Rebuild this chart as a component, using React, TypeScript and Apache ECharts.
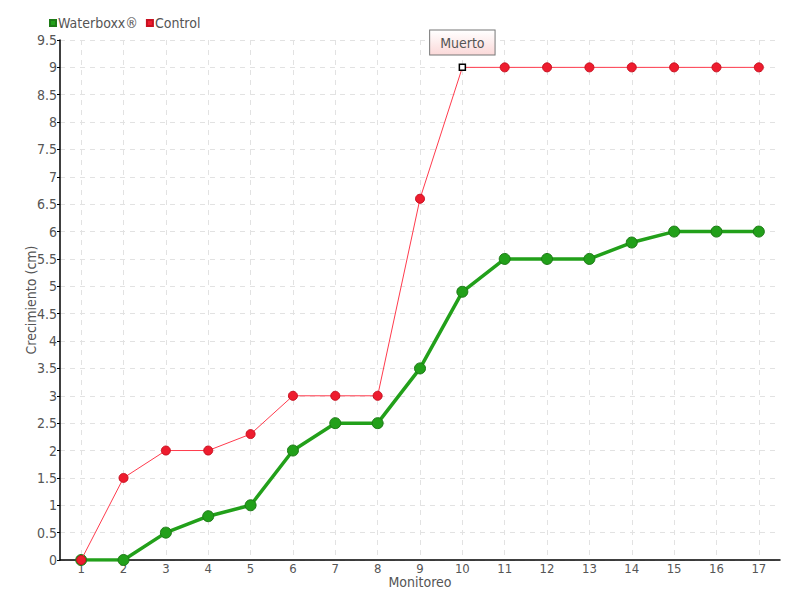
import React, { useEffect, useRef } from "react";
import * as echarts from "echarts";

const categories = ["1","2","3","4","5","6","7","8","9","10","11","12","13","14","15","16","17"];
const waterboxx = [0, 0, 0.5, 0.8, 1, 2, 2.5, 2.5, 3.5, 4.9, 5.5, 5.5, 5.5, 5.8, 6, 6, 6];
const control = [0, 1.5, 2, 2, 2.3, 3, 3, 3, 6.6, 9, 9, 9, 9, 9, 9, 9, 9];
const deadIndex = 9;
const deadLabel = "Muerto";

const FONT = "'DejaVu Sans Condensed', 'Roboto Condensed', 'Liberation Sans Narrow', sans-serif";

export default function App() {
  const ref = useRef<HTMLDivElement>(null);
  useEffect(() => {
    if (!ref.current) return;
    const chart = echarts.init(ref.current, undefined, { renderer: "svg" });
    const controlData = control.map((v, i) =>
      i === deadIndex
        ? {
            value: v,
            symbol: "rect",
            symbolSize: 6,
            itemStyle: { color: "#ffffff", borderColor: "#000000", borderWidth: 1.5 },
            label: {
              show: true,
              position: "top",
              distance: 9,
              formatter: deadLabel,
              fontFamily: FONT,
              fontSize: 14,
              color: "#555",
              padding: [5, 10, 5, 10],
              borderColor: "#777",
              borderWidth: 1,
              backgroundColor: {
                type: "linear", x: 0, y: 0, x2: 0, y2: 1,
                colorStops: [
                  { offset: 0, color: "#ffffff" },
                  { offset: 1, color: "#fbd9d9" },
                ],
              },
            },
          }
        : v
    );
    chart.setOption({
      animation: false,
      textStyle: { fontFamily: FONT },
      legend: {
        left: 44,
        top: 11,
        itemWidth: 6,
        itemHeight: 6,
        itemGap: 8,
        icon: "rect",
        textStyle: { fontFamily: FONT, fontSize: 14, color: "#555", padding: [0, 0, 0, -3] },
        data: ["Waterboxx®", "Control"],
      },
      grid: { left: 60, right: 20, top: 40, bottom: 40, containLabel: false },
      xAxis: {
        type: "category",
        data: categories,
        name: "Monitoreo",
        nameLocation: "middle",
        nameGap: 15,
        nameMoveOverlap: false,
        nameTextStyle: { fontFamily: FONT, fontSize: 14, color: "#555" },
        axisLine: { lineStyle: { color: "#000", width: 1.5 } },
        axisTick: { alignWithLabel: true, length: 4, lineStyle: { color: "#000" } },
        axisLabel: { fontFamily: FONT, fontSize: 13, color: "#555", margin: 2, lineHeight: 12 },
        splitLine: {
          show: true,
          alignWithLabel: true,
          lineStyle: { type: [5, 5], color: "#e2e2e2" },
        },
      },
      yAxis: {
        type: "value",
        min: 0,
        max: 9.5,
        interval: 0.5,
        name: "Crecimiento (cm)",
        nameLocation: "middle",
        nameGap: 22,
        nameMoveOverlap: false,
        nameTextStyle: { fontFamily: FONT, fontSize: 14, color: "#555" },
        axisLine: { show: true, lineStyle: { color: "#000", width: 1.5 } },
        axisTick: { show: true, length: 3, lineStyle: { color: "#000" } },
        axisLabel: { fontFamily: FONT, fontSize: 14, color: "#555", margin: 3 },
        splitLine: { lineStyle: { type: [5, 5], color: "#e2e2e2" } },
      },
      series: [
        {
          name: "Waterboxx®",
          type: "line",
          data: waterboxx,
          symbol: "circle",
          symbolSize: 11,
          color: "#22a01a",
          lineStyle: { width: 3.5, color: "#22a01a" },
          itemStyle: { color: "#22a01a", borderColor: "#1d7a16", borderWidth: 1 },
          z: 2,
        },
        {
          name: "Control",
          type: "line",
          data: controlData,
          symbol: "circle",
          symbolSize: 9,
          color: "#ee1c2e",
          lineStyle: { width: 1, color: "#ff3b4d" },
          itemStyle: { color: "#ee1c2e", borderColor: "#c81020", borderWidth: 1 },
          z: 3,
        },
      ],
    });
    return () => chart.dispose();
  }, []);
  return <div ref={ref} style={{ width: 800, height: 600, margin: -8 }} />;
}
